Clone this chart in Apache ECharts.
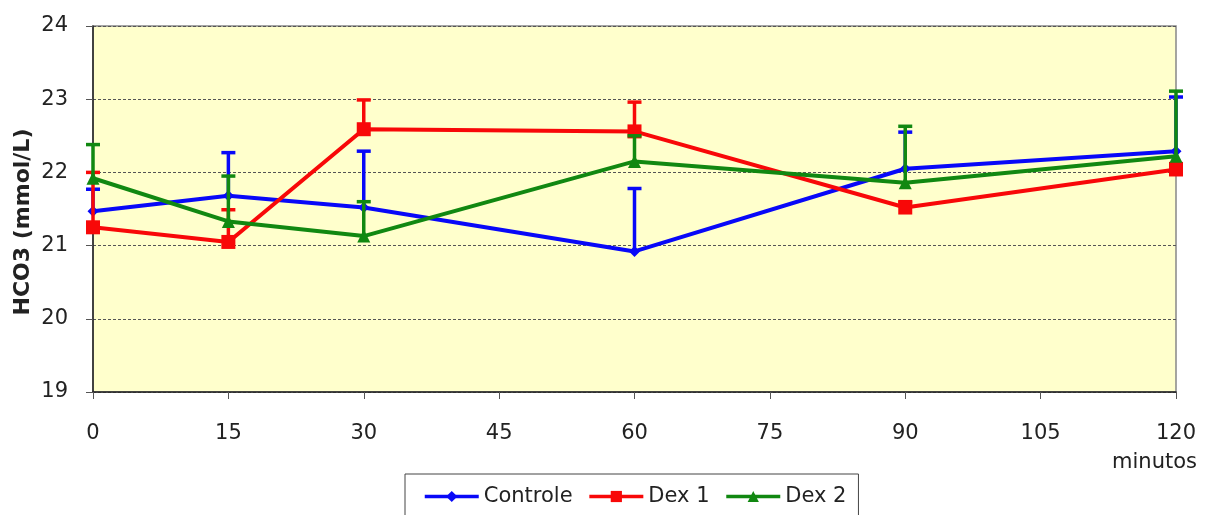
<!DOCTYPE html>
<html>
<head>
<meta charset="utf-8">
<script src="https://cdn.jsdelivr.net/npm/echarts@6/dist/echarts.min.js"></script>
<style>
html,body{margin:0;padding:0;background:#fff;}
#chart{width:1205px;height:515px;}
</style>
</head>
<body>
<div id="chart"></div>
<script>
const minutes = [0, 15, 30, 60, 90, 120];
const xTicks = [0, 15, 30, 45, 60, 75, 90, 105, 120];
const yTicks = [19, 20, 21, 22, 23, 24];
const seriesNames = ['Controle', 'Dex 1', 'Dex 2'];
const controle = [21.47, 21.68, 21.52, 20.92, 22.05, 22.29];
const controleErr = [0.30, 0.59, 0.77, 0.86, 0.50, 0.74];
const dex1 = [21.25, 21.05, 22.59, 22.56, 21.52, 22.04];
const dex1Err = [0.75, 0.44, 0.40, 0.40, 0.08, 0.08];
const dex2 = [21.92, 21.33, 21.13, 22.15, 21.86, 22.22];
const dex2Err = [0.46, 0.62, 0.47, 0.35, 0.77, 0.89];
const yName = 'HCO3 (mmol/L)';
const xName = 'minutos';

const colors = ['#0808F8', '#F80808', '#118811'];
const symbols = ['diamond', 'rect', 'triangle'];
const symbolSizes = [11, 14, 13];
const vals = [controle, dex1, dex2];
const errs = [controleErr, dex1Err, dex2Err];

function errSeries(i) {
  return {
    type: 'custom',
    name: seriesNames[i] + ' err',
    z: 2 + i * 2,
    silent: true,
    data: minutes.map((m, k) => [m, vals[i][k], vals[i][k] + errs[i][k]]),
    renderItem: function (params, api) {
      const p0 = api.coord([api.value(0), api.value(1)]);
      const p1 = api.coord([api.value(0), api.value(2)]);
      const hw = 7;
      return {
        type: 'group',
        children: [
          { type: 'line', shape: { x1: p0[0], y1: p0[1], x2: p1[0], y2: p1[1] },
            style: { stroke: colors[i], lineWidth: 3.5 } },
          { type: 'line', shape: { x1: p1[0] - hw, y1: p1[1], x2: p1[0] + hw, y2: p1[1] },
            style: { stroke: colors[i], lineWidth: 3.5 } }
        ]
      };
    }
  };
}

function lineSeries(i) {
  return {
    type: 'line',
    name: seriesNames[i],
    z: 3 + i * 2,
    data: minutes.map((m, k) => [m, vals[i][k]]),
    symbol: symbols[i],
    symbolSize: symbolSizes[i],
    showAllSymbol: true,
    lineStyle: { color: colors[i], width: 4 },
    itemStyle: { color: colors[i] },
    animation: false
  };
}

const chart = echarts.init(document.getElementById('chart'), null, { renderer: 'canvas' });
const font = 'DejaVu Sans, Liberation Sans, Arial, sans-serif';
chart.setOption({
  animation: false,
  backgroundColor: '#ffffff',
  grid: {
    left: 93, right: 29, top: 26, bottom: 123,
    show: true, backgroundColor: '#FFFFCC', borderColor: '#888888', borderWidth: 1.5
  },
  xAxis: {
    type: 'value', min: xTicks[0], max: xTicks[xTicks.length - 1], interval: 15,
    axisLine: { show: true, onZero: false, lineStyle: { color: '#222', width: 1.5 } },
    axisTick: { show: true, length: 7, lineStyle: { color: '#555' } },
    splitLine: { show: false },
    axisLabel: { color: '#222', fontSize: 21, fontFamily: font, margin: 31 }
  },
  yAxis: {
    type: 'value', min: yTicks[0], max: yTicks[yTicks.length - 1], interval: 1,
    axisLine: { show: true, lineStyle: { color: '#222', width: 1.5 } },
    axisTick: { show: true, length: 7, lineStyle: { color: '#555' } },
    splitLine: { show: true, lineStyle: { color: '#555', type: [3, 2], width: 1 } },
    axisLabel: { color: '#222', fontSize: 21, fontFamily: font, margin: 25 }
  },
  legend: {
    data: seriesNames,
    top: 474, left: 405, width: 450,
    borderColor: '#444', borderWidth: 1,
    padding: [12, 12, 20, 18],
    itemWidth: 54, itemHeight: 14, itemGap: 15,
    lineStyle: { width: 3.5 },
    textStyle: { color: '#222', fontSize: 21, fontFamily: font },
    backgroundColor: '#fff'
  },
  graphic: [
    {
      type: 'text', right: 8, top: 452,
      style: { text: xName, fill: '#222', fontSize: 21, fontFamily: font }
    },
    {
      type: 'text', x: 23, y: 222, rotation: Math.PI / 2,
      style: { text: yName, fill: '#222', fontSize: 22, fontWeight: 'bold', fontFamily: font,
               align: 'center', verticalAlign: 'middle' }
    }
  ],
  series: [errSeries(0), lineSeries(0), errSeries(1), lineSeries(1), errSeries(2), lineSeries(2)]
});
</script>
</body>
</html>
